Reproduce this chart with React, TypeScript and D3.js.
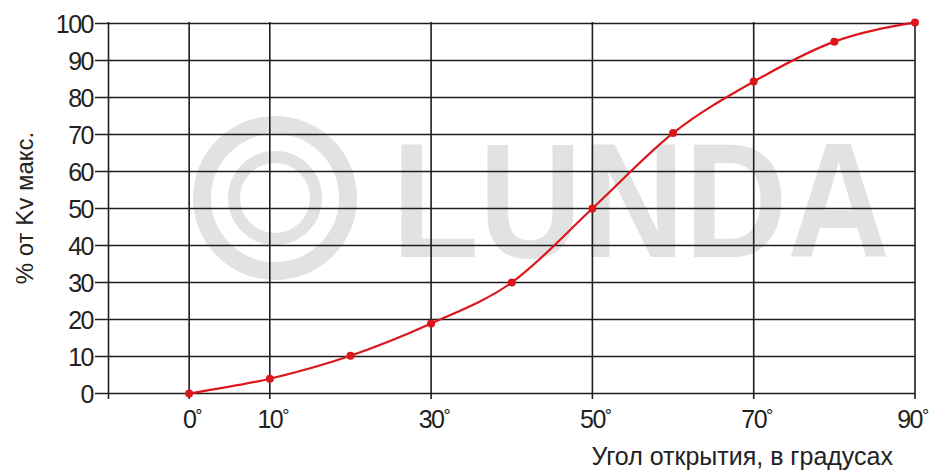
import React from 'react';
import * as d3 from 'd3';

// Угол открытия (градусы) и % от Kv макс.
const angles = [0, 10, 20, 30, 40, 50, 60, 70, 80, 90];
const kvPercent = [0, 4, 10.2, 18.9, 30, 50, 70.4, 84.3, 95.1, 100.3];

const xGridValues = [-10, 0, 10, 30, 50, 70, 90];
const xTickLabels = [0, 10, 30, 50, 70, 90];
const yTicks = [0, 10, 20, 30, 40, 50, 60, 70, 80, 90, 100];

const yTitle = '% от Kv макс.';
const xTitle = 'Угол открытия, в градусах';
const watermark = 'LUNDA';

const W = 929;
const H = 470;
const font = 'Arial, "Liberation Sans", Helvetica, sans-serif';

const App: React.FC = () => {
  const x = d3.scaleLinear().domain([-10, 90]).range([108.5, 915]);
  const y = d3.scaleLinear().domain([0, 100]).range([393.5, 23.5]);

  const line = d3
    .line<number>()
    .x((_, i) => x(angles[i]))
    .y(d => y(d))
    .curve(d3.curveMonotoneX);

  const tickFs = 25;
  const gridColor = '#1e1e1e';
  const red = '#dc161b';

  return (
    <svg
      width={W}
      height={H}
      style={{ position: 'absolute', left: 0, top: 0, background: '#fff' }}
      fontFamily={font}
    >
      <rect width={W} height={H} fill="#fff" />

      {/* watermark */}
      <g fill="none" stroke="#e2e2e2">
        <circle cx={275} cy={198} r={73} strokeWidth={18} />
        <circle cx={275} cy={198} r={41} strokeWidth={12} />
      </g>
      <text
        x={392}
        y={257}
        fontSize={163}
        fontWeight="bold"
        fill="#e2e2e2"
        textLength={498}
        lengthAdjust="spacingAndGlyphs"
      >
        {watermark}
      </text>

      {/* horizontal grid */}
      {yTicks.map(t => (
        <line
          key={'h' + t}
          x1={95}
          x2={915}
          y1={y(t)}
          y2={y(t)}
          stroke={gridColor}
          strokeWidth={1.6}
        />
      ))}

      {/* vertical grid */}
      {xGridValues.map(v => (
        <line
          key={'v' + v}
          x1={x(v)}
          x2={x(v)}
          y1={22}
          y2={399}
          stroke={gridColor}
          strokeWidth={1.6}
        />
      ))}

      {/* y tick labels */}
      {yTicks.map(t => (
        <text
          key={'yl' + t}
          x={93}
          y={y(t)}
          dy="0.36em"
          textAnchor="end"
          fontSize={tickFs}
          fill="#222"
          letterSpacing={-1.5}
        >
          {t}
        </text>
      ))}

      {/* x tick labels */}
      {xTickLabels.map(v => {
        const half = (String(v).length * (0.556 * tickFs - 1.5)) / 2;
        const cx = Math.min(x(v), W - 7 - half);
        return (
          <g key={'xl' + v}>
            <text
              x={cx}
              y={428}
              textAnchor="middle"
              fontSize={tickFs}
              fill="#222"
              letterSpacing={-1.5}
            >
              {v}
            </text>
            <text x={cx + half} y={422} fontSize={18} fill="#222">
              °
            </text>
          </g>
        );
      })}

      {/* curve */}
      <path d={line(kvPercent) || ''} fill="none" stroke={red} strokeWidth={2.2} />
      {kvPercent.map((d, i) => (
        <circle key={'p' + i} cx={x(angles[i])} cy={y(d)} r={4} fill={red} />
      ))}

      {/* titles */}
      <text
        transform={`translate(33, 208) rotate(-90)`}
        textAnchor="middle"
        fontSize={24}
        fill="#222"
      >
        {yTitle}
      </text>
      <text x={893} y={465} textAnchor="end" fontSize={25} fill="#222">
        {xTitle}
      </text>
    </svg>
  );
};

export default App;
